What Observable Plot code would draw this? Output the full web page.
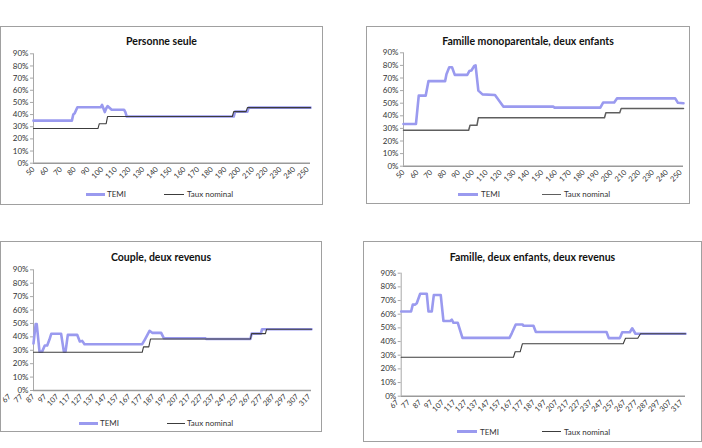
<!DOCTYPE html>
<html>
<head>
<meta charset="utf-8">
<script src="https://cdn.jsdelivr.net/npm/d3@7"></script>
<script src="https://cdn.jsdelivr.net/npm/@observablehq/plot@0.6"></script>
<style>
  body { margin: 0; background: #fff; font-family: Lato, "Open Sans", sans-serif; }
  #page { position: relative; width: 702px; height: 448px; overflow: hidden; background: #fff; }
  .frame { position: absolute; border: 1px solid #a0a0a0; box-sizing: border-box; }
  .title { position: absolute; font-weight: bold; font-size: 10.5px; color: #111; transform: translate(-50%, -50%); white-space: nowrap; }
  .sw { position: absolute; }
  .lg { position: absolute; font-size: 8px; color: #333; transform: translateY(-50%); white-space: nowrap; }
  #page svg { position: absolute; overflow: visible; }
</style>
</head>
<body>
<div id="page"></div>
<script>
// Marginal rates (%) by income (thousands of $), four household types.
const yTicks = [0, 10, 20, 30, 40, 50, 60, 70, 80, 90];
const ticksSmall = [50, 60, 70, 80, 90, 100, 110, 120, 130, 140, 150, 160, 170, 180, 190, 200, 210, 220, 230, 240, 250];
const ticksLarge = [67, 77, 87, 97, 107, 117, 127, 137, 147, 157, 167, 177, 187, 197, 207, 217, 227, 237, 247, 257, 267, 277, 287, 297, 307, 317];

// Personne seule
const seuleTemiRevenu = [50, 78, 79, 80, 82, 99, 100, 101, 102, 103, 104, 105, 107, 116, 117, 118, 196, 197, 206, 207, 252];
const seuleTemi       = [35, 35, 40, 41, 46, 46, 48, 45, 42, 45, 47, 46, 44, 44, 42, 38.4, 38.4, 42.4, 42.4, 45.7, 45.7];
const seuleNomRevenu  = [50, 97, 98, 103, 104, 195, 196, 205, 206, 252];
const seuleNom        = [28.5, 28.5, 32.5, 32.5, 38.4, 38.4, 42.4, 42.4, 45.7, 45.7];

// Famille monoparentale, deux enfants
const monoTemiRevenu = [50, 59, 61, 66, 68, 80, 81, 83, 85, 87, 96, 97.5, 99, 101, 102, 104, 107, 116, 119, 122, 158, 159, 192, 194, 202, 204, 246, 248, 252];
const monoTemi       = [33.5, 33.5, 56, 56, 67.5, 67.5, 73, 78.5, 78.5, 72.5, 72.5, 75.5, 76, 79.5, 80, 60, 57, 56.5, 52, 47.3, 47.3, 46.5, 46.5, 50.5, 50.5, 53.8, 53.8, 50.3, 50];
const monoNomRevenu  = [50, 97, 98, 103, 104, 195, 196, 206, 207, 252];
const monoNom        = [28.5, 28.5, 32.5, 32.5, 38.4, 38.4, 42.4, 42.4, 45.7, 45.7];

// Couple, deux revenus
const coupleTemiRevenu = [87, 88.8, 89.7, 92, 94.2, 96.4, 98.4, 100.3, 101.8, 110, 112.3, 113.7, 115.6, 123.4, 125.6, 127.6, 129.5, 177.6, 179.8, 183.7, 185.9, 193.4, 195.6, 230, 231, 267.8, 268.8, 276.5, 277.5, 318.7];
const coupleTemi       = [35, 49.5, 49.5, 29, 29, 33.5, 33.5, 38, 42.3, 42.3, 29, 29, 41.5, 41.5, 36.5, 37, 34.5, 34.5, 38, 44.5, 43, 43, 39, 39, 38.4, 38.4, 42.4, 42.4, 45.7, 45.7];
const coupleNomRevenu  = [87, 177.6, 178.7, 183.1, 184.5, 267.8, 268.8, 280.3, 281.3, 318.7];
const coupleNom        = [28.5, 28.5, 32.5, 32.5, 38.4, 38.4, 42.4, 42.4, 45.7, 45.7];

// Famille, deux enfants, deux revenus
const familleTemiRevenu = [70.3, 79, 80.5, 82.6, 84, 87, 92.8, 94.3, 97.2, 99, 105.1, 107.5, 113.4, 114.8, 116.3, 120.1, 124.2, 165.6, 167.6, 171.1, 177, 178, 186.7, 188.8, 251, 253, 262.7, 264.8, 271.5, 273.6, 276.5, 320.5];
const familleTemi       = [62, 62, 67, 67, 68, 75, 75, 62, 62, 74, 74, 55, 55, 56, 53.7, 53.7, 42.7, 42.7, 46, 52.5, 52.5, 51.5, 51.5, 47, 47, 42.5, 42.5, 46.8, 46.8, 49.7, 45.7, 45.7];
const familleNomRevenu  = [70.3, 169.1, 170.6, 175, 177, 265.7, 267.7, 278.5, 280.9, 320.5];
const familleNom        = [28.5, 28.5, 32.5, 32.5, 38.4, 38.4, 42.4, 42.4, 45.7, 45.7];

const TEMI_COLOR = "#9a9aef";
const page = document.getElementById("page");

function pairs(xs, ys) { return xs.map((x, i) => ({x, y: ys[i]})); }

function add(tag, cls, css, text) {
  const el = document.createElement(tag);
  el.className = cls;
  Object.assign(el.style, css);
  if (text) el.textContent = text;
  page.appendChild(el);
  return el;
}

function panel(p) {
  add("div", "frame", {left: p.box[0] + "px", top: p.box[1] + "px", width: p.box[2] + "px", height: p.box[3] + "px"});
  const [x0] = p.domain;
  const chart = Plot.plot({
    width: p.box[2], height: p.box[3],
    marginLeft: p.m[0], marginRight: p.m[1], marginTop: p.m[2], marginBottom: p.m[3],
    x: {type: "linear", domain: p.domain},
    y: {domain: [0, 90]},
    style: {fontFamily: "Lato, 'Open Sans', sans-serif", fontSize: "7.5px", color: "#333", background: "transparent", overflow: "visible"},
    marks: [
      Plot.ruleX([x0], {y1: 0, y2: 90, stroke: "#a8a8a8", strokeWidth: 1}),
      Plot.axisY({ticks: yTicks, tickFormat: d => d + "%", tickSize: 3, tickPadding: 2, stroke: "#a8a8a8", fontSize: 8, label: null}),
      Plot.axisX({ticks: p.ticks, tickFormat: d => String(d), tickRotate: -45, tickSize: 0, tickPadding: 5, label: null}),
      Plot.line(pairs(p.temiX, p.temiY), {x: "x", y: "y", stroke: TEMI_COLOR, strokeWidth: 2.6, strokeLinejoin: "round"}),
      Plot.line(pairs(p.nomX, p.nomY), {x: "x", y: "y", stroke: p.nomColor, strokeWidth: p.nomWidth}),
      Plot.ruleY([0], {stroke: "#9a9a9a", strokeWidth: 1.6})
    ]
  });
  chart.style.left = p.box[0] + "px";
  chart.style.top = p.box[1] + "px";
  page.appendChild(chart);

  add("div", "title", {left: (p.box[0] + p.box[2] / 2) + "px", top: p.titleY + "px"}, p.title);
  const ly = p.legend[0];
  const [a0, a1, at, b0, b1, bt] = p.legend.slice(1);
  add("div", "sw", {left: a0 + "px", top: (ly - 1.5) + "px", width: (a1 - a0) + "px", height: "3px", background: TEMI_COLOR});
  add("div", "lg", {left: at + "px", top: ly + "px"}, "TEMI");
  add("div", "sw", {left: b0 + "px", top: (ly - 0.5) + "px", width: (b1 - b0) + "px", height: "1px", background: p.nomColor});
  add("div", "lg", {left: bt + "px", top: ly + "px"}, "Taux nominal");
}

panel({
  title: "Personne seule", box: [0, 26, 323, 179], m: [33, 13, 27.3, 42.3], domain: [50, 252],
  ticks: ticksSmall, titleY: 40.7, legend: [194, 86, 105, 107, 164, 184, 187],
  temiX: seuleTemiRevenu, temiY: seuleTemi, nomX: seuleNomRevenu, nomY: seuleNom,
  nomColor: "#3c3c3c", nomWidth: 1.1
});
panel({
  title: "Famille monoparentale, deux enfants", box: [366, 26, 324, 178], m: [37, 7, 26.3, 38.3], domain: [50, 252],
  ticks: ticksSmall, titleY: 40.7, legend: [194, 458, 478, 481, 542, 561, 564],
  temiX: monoTemiRevenu, temiY: monoTemi, nomX: monoNomRevenu, nomY: monoNom,
  nomColor: "#5e5e5e", nomWidth: 1.5
});
panel({
  title: "Couple, deux revenus", box: [0, 241, 322, 191], m: [33, 11, 28.3, 42], domain: [87, 318.7],
  ticks: ticksLarge, titleY: 256.7, legend: [423, 79, 98, 100, 167, 185, 187],
  temiX: coupleTemiRevenu, temiY: coupleTemi, nomX: coupleNomRevenu, nomY: coupleNom,
  nomColor: "#3c3c3c", nomWidth: 1.1
});
panel({
  title: "Famille, deux enfants, deux revenus", box: [363, 241, 339, 201], m: [37.7, 17, 31.7, 46.3], domain: [70.3, 320.5],
  ticks: ticksLarge, titleY: 257, legend: [431.7, 457, 477, 480, 542, 561, 564],
  temiX: familleTemiRevenu, temiY: familleTemi, nomX: familleNomRevenu, nomY: familleNom,
  nomColor: "#3c3c3c", nomWidth: 1.1
});
</script>
</body>
</html>
